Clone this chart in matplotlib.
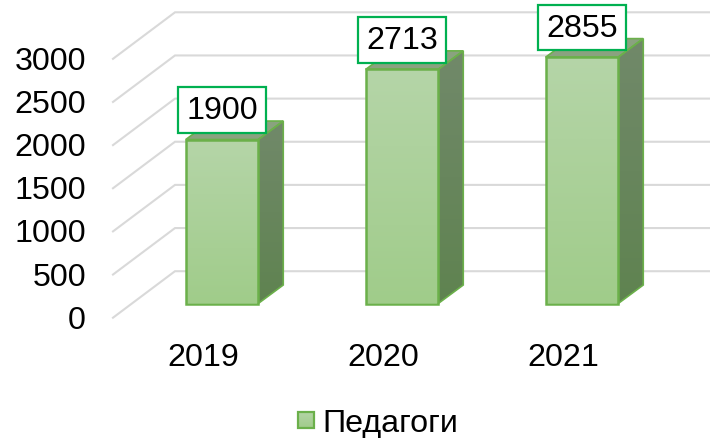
import numpy as np
import matplotlib
matplotlib.use('Agg')
import matplotlib.pyplot as plt
from matplotlib.colors import LinearSegmentedColormap
from matplotlib.patches import Polygon, Rectangle

plt.rcParams['font.family'] = ['Liberation Sans', 'DejaVu Sans']

# Data
years = ['2019', '2020', '2021']
teachers = [1900, 2713, 2855]
y_ticks = [0, 500, 1000, 1500, 2000, 2500, 3000]
series_name = 'Педагоги'

# pixel scale of the reference, the axes fill the whole figure
W, H = 710, 439
PX_X = 180.0
PX_Y = 0.0863
X0 = 203.5
Y0 = 318.7

def dx(px):
    return px / PX_X

def dy(px):
    return px / PX_Y

GRID = '#d9d9d9'
EDGE = '#6bb04a'
BOX = '#00b050'
FONT = 23.2

front_cmap = LinearSegmentedColormap.from_list('front', ['#a0cc8a', '#b5d5a8'])
side_cmap = LinearSegmentedColormap.from_list('side', ['#5f8350', '#71896a'])

fig = plt.figure(figsize=(W / 100, H / 100), dpi=100)
ax = fig.add_axes([0, 0, 1, 1])
ax.axis('off')

# walls (side wall + back wall gridlines)
for v in y_ticks:
    ax.plot([dx(113 - X0), dx(175 - X0), dx(W - X0)],
            [v, v + dy(46.5), v + dy(46.5)],
            color=GRID, lw=1.5, zorder=1, solid_joinstyle='miter')
    ax.text(dx(86 - X0), v - dy(2), str(v), ha='right', va='center', fontsize=FONT, color='black')

# bars
bar_w = dx(72.5)
inset_x = dx(18.5)
inset_y = dy(14.2)
depth_x = dx(25)
depth_y = dy(18.5)
grad = np.linspace(0, 1, 256).reshape(-1, 1)

for i, (year, val) in enumerate(zip(years, teachers)):
    xl = i + inset_x - bar_w / 2
    xr = xl + bar_w
    yb = inset_y
    yt = inset_y + val

    side = Polygon([(xr, yb), (xr + depth_x, yb + depth_y), (xr + depth_x, yt + depth_y), (xr, yt)],
                   closed=True, fc='none', ec=EDGE, lw=1.2, zorder=5)
    ax.add_patch(side)
    im = ax.imshow(grad, extent=(xr, xr + depth_x, yb, yt + depth_y), origin='lower', aspect='auto',
                   cmap=side_cmap, zorder=3)
    im.set_clip_path(side)

    ax.add_patch(Polygon([(xl, yt), (xr, yt), (xr + depth_x, yt + depth_y), (xl + depth_x, yt + depth_y)],
                         closed=True, fc='#8aa27f', ec=EDGE, lw=1.2, zorder=4))

    front = Rectangle((xl, yb), bar_w, val, fc='none', ec=EDGE, lw=1.8, zorder=6)
    ax.add_patch(front)
    im = ax.imshow(grad, extent=(xl, xr, yb, yt), origin='lower', aspect='auto', cmap=front_cmap, zorder=5)
    im.set_clip_path(front)

    ax.text(i, dy(Y0 - 358), year, ha='center', va='center', fontsize=FONT, color='black')
    ax.text(i + inset_x, yt + dy(29.5), str(val), ha='center', va='center', fontsize=FONT, color='black', zorder=8,
            bbox=dict(boxstyle='square,pad=0.24', fc='white', ec=BOX, lw=1.6))

# legend
sw = Rectangle((dx(298 - X0), dy(Y0 - 429)), dx(16), dy(16), fc='none', ec=EDGE, lw=1.6, zorder=6)
ax.add_patch(sw)
im = ax.imshow(grad, extent=(dx(298 - X0), dx(314 - X0), dy(Y0 - 429), dy(Y0 - 413)), origin='lower',
               aspect='auto', cmap=front_cmap, zorder=5)
im.set_clip_path(sw)
ax.text(dx(322 - X0), dy(Y0 - 424), series_name, ha='left', va='center', fontsize=FONT, color='black')

# imshow changes the limits, set them last
ax.set_xlim(-X0 / PX_X, (W - X0) / PX_X)
ax.set_ylim(dy(Y0 - H), dy(Y0))

fig.savefig('out.png', dpi=100)
